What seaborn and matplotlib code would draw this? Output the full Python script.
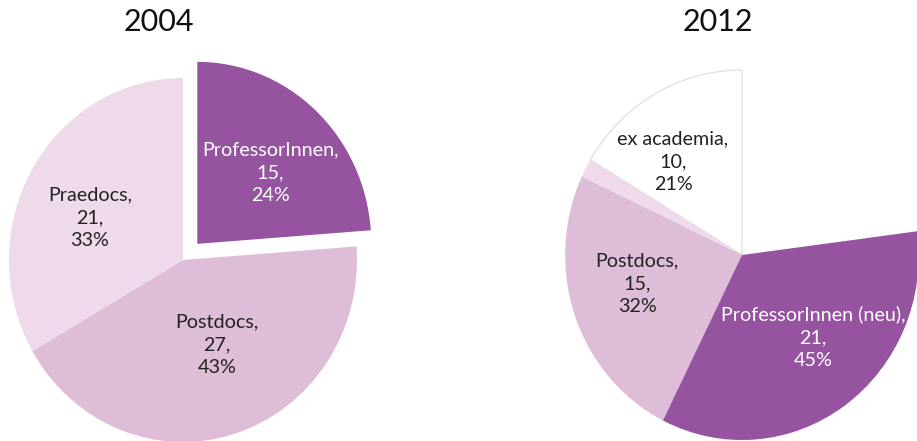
import matplotlib
matplotlib.use("Agg")
import matplotlib.pyplot as plt
import seaborn as sns

sns.set_theme(style="white")
plt.rcParams['font.family'] = ['Lato', 'DejaVu Sans']

# ---- data ----
years = ["2004", "2012"]
labels_2004 = ["ProfessorInnen", "Postdocs", "Praedocs"]
values_2004 = [15, 27, 21]
labels_2012 = ["ex academia", "Praedocs", "Postdocs", "ProfessorInnen (neu)", ""]
values_2012 = [10, 1, 15, 21, 14]   # last slice: unlabelled, not drawn
shown_2012 = [True, True, True, True, False]

PURPLE = "#9553A0"
POST = "#DDBDD8"
PRAE = "#EEDAEA"
colors_2004 = [PURPLE, POST, PRAE]
colors_2012 = ["white", PRAE, POST, PURPLE, "none"]

W, H = 917, 441
SX = 0.956  # horizontal pixels per data unit (reference is slightly squeezed)

fig = plt.figure(figsize=(W / 100, H / 100), dpi=100)
ax = fig.add_axes([0, 0, 1, 1])


def px(x, y):
    return x / SX, H - y


# ---- 2004 ----
c1 = px(183, 260)
w1, _ = ax.pie(values_2004, colors=colors_2004, startangle=90, counterclock=False,
               center=c1, radius=182, explode=[22, 0, 0],
               wedgeprops=dict(linewidth=0))

# ---- 2012 ----
c2 = px(742, 255)
w2, _ = ax.pie(values_2012, colors=colors_2012, startangle=90, counterclock=True,
               center=c2, radius=185, wedgeprops=dict(linewidth=0))
w2[0].set_edgecolor("#E2E2E2")
w2[0].set_linewidth(1.0)
w2[-1].set_visible(False)

ax.set_xlim(0, W / SX)
ax.set_ylim(0, H)
ax.set_aspect("auto")
ax.axis("off")

tot04 = sum(values_2004)
tot12 = sum(v for v, s in zip(values_2012, shown_2012) if s)

FS = 14.2
LS = 1.42
pos_2004 = [(270, 173, "white"), (217, 345, "#222222"), (90, 218, "#222222")]
for lab, val, (x, y, col) in zip(labels_2004, values_2004, pos_2004):
    ax.text(*px(x, y), f"{lab},\n{val},\n{round(100 * val / tot04)}%", ha="center",
            va="center", color=col, fontsize=FS, linespacing=LS)

pos_2012 = {0: (673, 162, "#222222"), 2: (637, 284, "#222222"), 3: (813, 337, "white")}
for i, (x, y, col) in pos_2012.items():
    val = values_2012[i]
    ax.text(*px(x, y), f"{labels_2012[i]},\n{val},\n{round(100 * val / tot12)}%",
            ha="center", va="center", color=col, fontsize=FS, linespacing=LS)

ax.text(*px(159, 22), years[0], ha="center", va="center", fontsize=22, color="#111111")
ax.text(*px(718, 22), years[1], ha="center", va="center", fontsize=22, color="#111111")

fig.savefig("out.png", dpi=100)
